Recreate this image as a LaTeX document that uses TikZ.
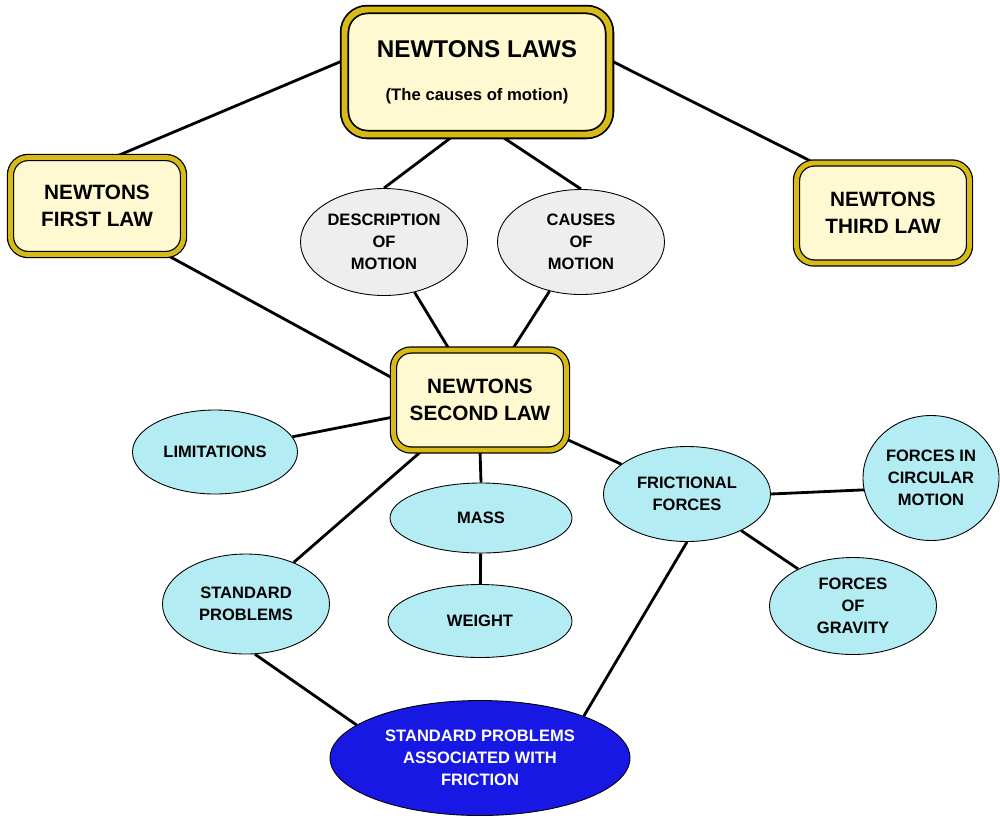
\documentclass[tikz,border=0pt]{standalone}
\usepackage{fontspec}
\setmainfont{Liberation Sans}
\usetikzlibrary{shapes.geometric}
\usetikzlibrary{backgrounds}
\definecolor{boxfill}{RGB}{255,249,210}
\definecolor{boxgold}{RGB}{214,186,24}
\definecolor{ovalcyan}{RGB}{180,236,244}
\definecolor{ovalgrey}{RGB}{238,238,238}
\definecolor{ovalblue}{RGB}{24,24,228}
\newcommand{\px}{0.02cm}

\begin{document}
\begin{tikzpicture}[x=0.02cm,y=-0.02cm,
		lawbox/.style={draw=black,double=boxgold,double distance=2.8pt,line width=0.7pt,
			fill=boxfill,rounded corners=10pt,align=center,inner sep=0pt,
			font=\bfseries\fontsize{11.8}{15.5}\selectfont},
		oval/.style={ellipse,draw=black,line width=0.5pt,align=center,inner sep=0pt,
			font=\bfseries\fontsize{9.4}{12.4}\selectfont},
		cyanoval/.style={oval,fill=ovalcyan},
		greyoval/.style={oval,fill=ovalgrey},
		blueoval/.style={oval,fill=ovalblue,text=white},
		link/.style={line width=1.6pt,black}]
	\useasboundingbox (0,0) rectangle (1000,819);
	% the laws
	\node[lawbox,double distance=3.4pt,line width=1pt,rounded corners=13pt,
		minimum width=265*\px,minimum height=125*\px] (laws) at (477,72)
		{\fontsize{13.8}{18}\selectfont NEWTONS LAWS\\[9pt]
		\fontsize{9.5}{12}\selectfont (The causes of motion)};
	\node[lawbox,minimum width=173*\px,minimum height=97*\px] (first) at (97,206)
		{NEWTONS\\FIRST LAW};
	\node[lawbox,minimum width=173*\px,minimum height=100*\px] (third) at (883,213)
		{NEWTONS\\THIRD LAW};
	\node[lawbox,minimum width=173*\px,minimum height=100*\px] (second) at (480,400)
		{NEWTONS\\SECOND LAW};
	% motion
	\node[greyoval,minimum width=167*\px,minimum height=107*\px] (desc) at (384,242)
		{DESCRIPTION\\OF\\MOTION};
	\node[greyoval,minimum width=167*\px,minimum height=105*\px] (causes) at (581,242)
		{CAUSES\\OF\\MOTION};
	% second law topics
	\node[cyanoval,minimum width=165*\px,minimum height=84*\px] (limits) at (215,452)
		{LIMITATIONS};
	\node[cyanoval,minimum width=182*\px,minimum height=70*\px] (mass) at (481,518)
		{MASS};
	\node[cyanoval,minimum width=184*\px,minimum height=73*\px] (weight) at (480,621)
		{WEIGHT};
	\node[cyanoval,minimum width=167*\px,minimum height=100*\px] (standard) at (246,604)
		{STANDARD\\PROBLEMS};
	\node[cyanoval,minimum width=167*\px,minimum height=95*\px] (friction) at (687,494)
		{FRICTIONAL\\FORCES};
	\node[cyanoval,minimum width=136*\px,minimum height=125*\px] (circular) at (931,478)
		{FORCES IN\\CIRCULAR\\MOTION};
	\node[cyanoval,minimum width=167*\px,minimum height=97*\px] (gravity) at (853,606)
		{FORCES\\OF\\GRAVITY};
	\node[blueoval,minimum width=300*\px,minimum height=115*\px] (problems) at (480,758)
		{STANDARD PROBLEMS\\ASSOCIATED WITH\\FRICTION};
	% links
	\begin{pgfonlayer}{background}
		\draw[link] (laws.175) -- (first.70);
		\draw[link] (laws.5) -- (third.144);
		\draw[link] (laws.250) -- (desc.north);
		\draw[link] (laws.290) -- (causes.north);
		\draw[link] (first.-35) -- (second.166);
		\draw[link] (desc) -- (second);
		\draw[link] (causes) -- (second);
		\draw[link] (limits) -- (second);
		\draw[link] (second) -- (standard);
		\draw[link] (second.south) -- (mass.north);
		\draw[link] (second) -- (friction);
		\draw[link] (mass) -- (weight);
		\draw[link] (friction.east) -- (circular.190);
		\draw[link] (friction) -- (gravity);
		\draw[link] (friction.south) -- (problems.22);
		\draw[link] (standard.-80) -- (problems.165);
	\end{pgfonlayer}
\end{tikzpicture}
\end{document}
